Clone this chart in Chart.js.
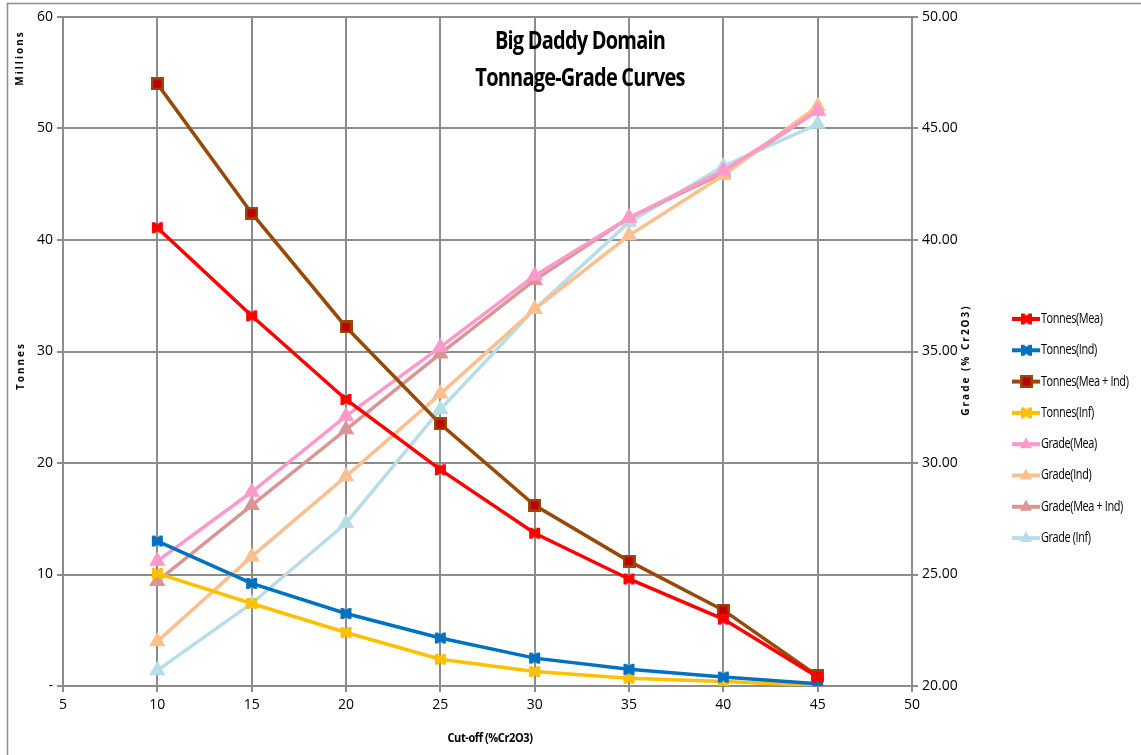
<!DOCTYPE html>
<html>
<head>
<meta charset="utf-8">
<script src="https://cdn.jsdelivr.net/npm/chart.js@4/dist/chart.umd.min.js"></script>
<style>
  html, body { margin: 0; padding: 0; background: #fff; }
  #wrap { width: 1141px; height: 755px; }
</style>
</head>
<body>
<div id="wrap"><canvas id="chart1"></canvas></div>
<script>
    // cut-off grades (%Cr2O3)
    const cutoffs = [10, 15, 20, 25, 30, 35, 40, 45];

    // tonnes, millions
    const tonnesMea    = [41.1, 33.2, 25.7, 19.4, 13.7, 9.6, 6.0, 0.8];
    const tonnesInd    = [13.0, 9.2, 6.5, 4.3, 2.5, 1.5, 0.8, 0.2];
    const tonnesMeaInd = [54.0, 42.4, 32.2, 23.5, 16.2, 11.2, 6.8, 0.9];
    const tonnesInf    = [10.1, 7.4, 4.8, 2.4, 1.3, 0.7, 0.4, 0.05];

    // grade, % Cr2O3
    const gradeMea    = [25.6, 28.7, 32.1, 35.2, 38.4, 41.0, 43.1, 45.8];
    const gradeInd    = [22.0, 25.8, 29.4, 33.1, 36.9, 40.2, 42.9, 46.0];
    const gradeMeaInd = [24.7, 28.1, 31.5, 34.9, 38.2, 41.0, 43.0, 45.8];
    const gradeInf    = [20.7, 23.7, 27.3, 32.4, 36.9, 40.8, 43.3, 45.2];

    const legendLabels = ['Tonnes(Mea)', 'Tonnes(Ind)', 'Tonnes(Mea + Ind)', 'Tonnes(Inf)',
                          'Grade(Mea)', 'Grade(Ind)', 'Grade(Mea + Ind)', 'Grade (Inf)'];

    const FONT = '"Open Sans", sans-serif';

    // excel-like notched square marker
    function notchMarker(fill) {
        const c = document.createElement('canvas');
        c.width = 13; c.height = 13;
        const g = c.getContext('2d');
        g.beginPath();
        g.moveTo(1, 1); g.lineTo(4, 1); g.lineTo(6.5, 3); g.lineTo(9, 1); g.lineTo(12, 1);
        g.lineTo(12, 12); g.lineTo(9, 12); g.lineTo(6.5, 10); g.lineTo(4, 12); g.lineTo(1, 12);
        g.closePath();
        g.fillStyle = fill;
        g.fill();
        return c;
    }
    function squareMarker(fill, stroke) {
        const c = document.createElement('canvas');
        c.width = 13; c.height = 13;
        const g = c.getContext('2d');
        g.fillStyle = stroke;
        g.fillRect(0, 0, 13, 13);
        g.fillStyle = fill;
        g.fillRect(2.5, 2.5, 8, 8);
        return c;
    }

    function series(label, data, color, marker, axis) {
        return {
            label: label,
            data: cutoffs.map((x, i) => ({ x: x, y: data[i] })),
            borderColor: color,
            backgroundColor: color,
            borderWidth: 3.5,
            pointStyle: marker,
            pointRadius: 6,
            pointHoverRadius: 6,
            yAxisID: axis,
            tension: 0
        };
    }

    const datasets = [
        series(legendLabels[0], tonnesMea, '#ff0000', notchMarker('#ff0000'), 'y'),
        series(legendLabels[1], tonnesInd, '#0070c0', notchMarker('#0070c0'), 'y'),
        series(legendLabels[2], tonnesMeaInd, '#984807', squareMarker('#c00000', '#984807'), 'y'),
        series(legendLabels[3], tonnesInf, '#ffc000', notchMarker('#ffc000'), 'y'),
        series(legendLabels[4], gradeMea, '#ff99cc', 'triangle', 'y1'),
        series(legendLabels[5], gradeInd, '#fac090', 'triangle', 'y1'),
        series(legendLabels[6], gradeMeaInd, '#d99694', 'triangle', 'y1'),
        series(legendLabels[7], gradeInf, '#b7dee8', 'triangle', 'y1')
    ];

    // condensed text: squeeze horizontally around x
    function narrowText(ctx, t, x, y, sx) {
        ctx.save();
        ctx.translate(x, y);
        ctx.scale(sx, 1);
        ctx.fillText(t, 0, 0);
        ctx.restore();
    }

    const extras = {
        id: 'extras',
        afterDraw(chart) {
            const ctx = chart.ctx;
            ctx.save();
            // outer frame
            ctx.strokeStyle = '#8c8c8c';
            ctx.lineWidth = 1.5;
            ctx.strokeRect(7.5, 3.5, 1200, 800);

            // title
            ctx.fillStyle = '#000';
            ctx.textAlign = 'center';
            ctx.textBaseline = 'middle';
            ctx.font = 'bold 25px ' + FONT;
            ctx.letterSpacing = '-1px';
            narrowText(ctx, 'Big Daddy Domain', 580, 42, 0.8);
            narrowText(ctx, 'Tonnage-Grade Curves', 580, 79, 0.8);

            // x title
            ctx.font = 'bold 13px ' + FONT;
            ctx.letterSpacing = '-0.5px';
            narrowText(ctx, 'Cut-off (%Cr2O3)', 490, 738, 0.85);

            // rotated axis titles
            ctx.font = 'bold 10px ' + FONT;
            ctx.letterSpacing = '2px';
            const rot = (t, x, y) => {
                ctx.save();
                ctx.translate(x, y);
                ctx.rotate(-Math.PI / 2);
                ctx.fillText(t, 0, 0);
                ctx.restore();
            };
            rot('Millions', 20, 58);
            rot('Tonnes', 21, 366);
            rot('Grade (% Cr2O3)', 966, 360);

            // legend
            ctx.letterSpacing = '-0.5px';
            ctx.font = '14px ' + FONT;
            ctx.textAlign = 'left';
            chart.data.datasets.forEach((ds, i) => {
                const y = 319 + i * 31.3;
                ctx.strokeStyle = ds.borderColor;
                ctx.lineWidth = 4;
                ctx.beginPath();
                ctx.moveTo(1012, y);
                ctx.lineTo(1040, y);
                ctx.stroke();
                if (typeof ds.pointStyle === 'string') {
                    ctx.fillStyle = ds.borderColor;
                    ctx.beginPath();
                    ctx.moveTo(1026, y - 7);
                    ctx.lineTo(1032, y + 4);
                    ctx.lineTo(1020, y + 4);
                    ctx.closePath();
                    ctx.fill();
                } else {
                    ctx.drawImage(ds.pointStyle, 1020, y - 6.5);
                }
                ctx.fillStyle = '#000';
                narrowText(ctx, ds.label, 1041, y, 0.78);
            });
            ctx.restore();
        }
    };

    const gridColor = '#8c8c8c';

    new Chart(document.getElementById('chart1'), {
        type: 'line',
        data: { datasets: datasets },
        plugins: [extras],
        options: {
            responsive: true,
            maintainAspectRatio: false,
            animation: false,
            layout: { padding: { top: 17, right: 149, left: 0, bottom: 0 } },
            plugins: { legend: { display: false }, tooltip: { enabled: false } },
            scales: {
                x: {
                    type: 'linear',
                    min: 5, max: 50,
                    ticks: { stepSize: 5, color: '#000', font: { family: FONT, size: 14 }, padding: 5 },
                    grid: { color: gridColor, lineWidth: 2, tickLength: 6, tickColor: gridColor },
                    border: { color: gridColor, width: 2 },
                    afterFit(s) { s.height = 69; }
                },
                y: {
                    position: 'left',
                    min: 0, max: 60,
                    ticks: {
                        stepSize: 10, color: '#000', font: { family: FONT, size: 14 }, padding: 4,
                        callback: v => v === 0 ? '-' : v
                    },
                    grid: { color: gridColor, lineWidth: 2, tickLength: 6, tickColor: gridColor },
                    border: { color: gridColor, width: 2 },
                    afterFit(s) { s.width = 63; }
                },
                y1: {
                    position: 'right',
                    min: 20, max: 50,
                    ticks: {
                        stepSize: 5, color: '#000', font: { family: FONT, size: 14 }, padding: 4,
                        callback: v => v.toFixed(2)
                    },
                    grid: { drawOnChartArea: false, color: gridColor, lineWidth: 2, tickLength: 6 },
                    border: { color: gridColor, width: 2 },
                    afterFit(s) { s.width = 80; }
                }
            }
        }
    });
</script>
</body>
</html>
